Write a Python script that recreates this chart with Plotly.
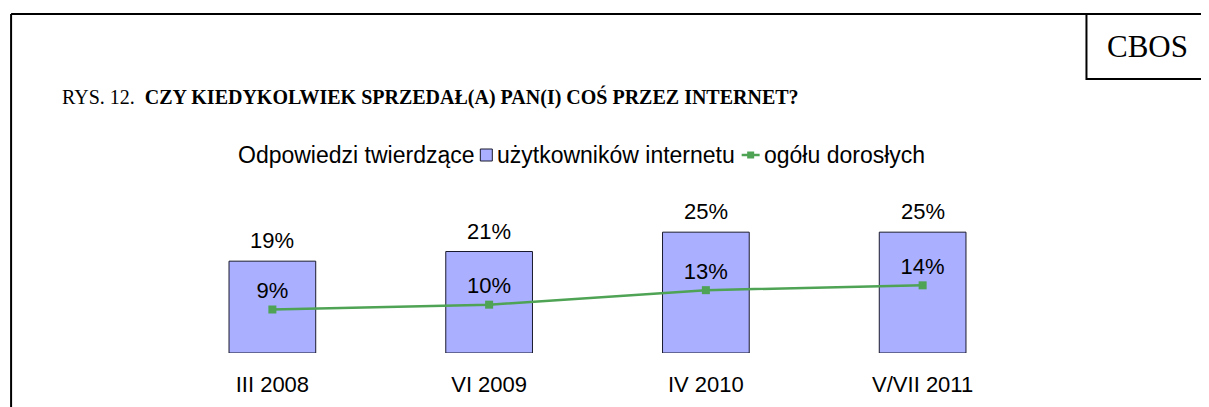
import plotly.graph_objects as go

# --- data ---
categories = ["III 2008", "VI 2009", "IV 2010", "V/VII 2011"]
internet_users = [19, 21, 25, 25]   # użytkowników internetu
all_adults = [9, 10, 13, 14]        # ogółu dorosłych

# --- page geometry ---
# the html page has an 8px body margin, so screen = figure + 8
OFF = 8
W, H = 1209, 407
L, T = 164 - OFF, 208 - OFF
R = W - (1031.5 - OFF)
B = H - (353 - OFF)
PW, PH = W - L - R, H - T - B


def fx(p):
    # screen pixel x -> paper x
    return (p - OFF - L) / PW


def fy(p):
    # screen pixel y -> paper y
    return (H - B - (p - OFF)) / PH


sans = "Liberation Sans, Arial, sans-serif"
serif = "Liberation Serif, Times New Roman, serif"
bar_color = "#AAAFFF"
bar_edge = "#1a1a2e"
line_color = "#4EA354"
fs = 22

fig = go.Figure()

fig.add_trace(go.Bar(
    x=categories, y=internet_users, name="użytkowników internetu",
    marker=dict(color=bar_color, line=dict(color=bar_edge, width=1)),
    hoverinfo="skip",
))

fig.add_trace(go.Scatter(
    x=categories, y=all_adults, name="ogółu dorosłych",
    mode="lines+markers+text",
    line=dict(color=line_color, width=2.5),
    marker=dict(symbol="square", size=8, color=line_color),
    text=[f"{v}%" for v in all_adults], textposition="top center",
    textfont=dict(family=sans, size=fs, color="black"),
    hoverinfo="skip",
))

# value labels above the bars
for c, v in zip(categories, internet_users):
    fig.add_annotation(x=c, y=v, text=f"{v}%", showarrow=False,
                       yanchor="bottom", yshift=6,
                       font=dict(family=sans, size=fs, color="black"))

# --- legend, drawn by hand to keep the tight spacing of the original ---
leg_y = fy(155)
lfont = dict(family=sans, size=23, color="black")
fig.add_annotation(x=fx(236), y=leg_y, xref="paper", yref="paper", xanchor="left",
                   yanchor="middle", text="Odpowiedzi twierdzące", showarrow=False, font=lfont)
fig.add_shape(type="rect", xref="paper", yref="paper",
              x0=fx(480.5), x1=fx(492.5), y0=fy(161), y1=fy(149),
              fillcolor=bar_color, line=dict(color=bar_edge, width=1))
fig.add_annotation(x=fx(495), y=leg_y, xref="paper", yref="paper", xanchor="left",
                   yanchor="middle", text="użytkowników internetu", showarrow=False, font=lfont)
fig.add_shape(type="line", xref="paper", yref="paper",
              x0=fx(742), x1=fx(760), y0=fy(155), y1=fy(155),
              line=dict(color=line_color, width=2.5))
fig.add_shape(type="rect", xref="paper", yref="paper",
              x0=fx(747.5), x1=fx(754.5), y0=fy(158.5), y1=fy(151.5),
              fillcolor=line_color, line=dict(width=0))
fig.add_annotation(x=fx(762), y=leg_y, xref="paper", yref="paper", xanchor="left",
                   yanchor="middle", text="ogółu dorosłych", showarrow=False, font=lfont)

# CBOS box label
fig.add_annotation(x=fx(1148), y=fy(47), xref="paper", yref="paper",
                   xanchor="center", yanchor="middle",
                   text="CBOS", showarrow=False,
                   font=dict(family=serif, size=31, color="black"))

# page frame + CBOS box
frame = dict(color="black", width=2)
fig.add_shape(type="line", xref="paper", yref="paper",
              x0=fx(11), x1=fx(W + 20), y0=fy(14), y1=fy(14), line=frame)
fig.add_shape(type="line", xref="paper", yref="paper",
              x0=fx(11), x1=fx(11), y0=fy(14), y1=fy(H + 20), line=frame)
fig.add_shape(type="rect", xref="paper", yref="paper",
              x0=fx(1087), x1=fx(W + 20), y0=fy(79), y1=fy(14), line=frame)

fig.update_layout(
    width=W, height=H,
    margin=dict(l=L, r=R, t=T, b=B),
    paper_bgcolor="white", plot_bgcolor="white",
    bargap=0.6,
    showlegend=False,
    title=dict(
        text="RYS. 12.\u00a0\u00a0<b>CZY KIEDYKOLWIEK SPRZEDAŁ(A) PAN(I) COŚ PRZEZ INTERNET?</b>",
        x=(62 - OFF) / W, xanchor="left", y=1 - (97 - OFF) / H, yanchor="middle",
        font=dict(family=serif, size=20, color="black"),
    ),
    xaxis=dict(showgrid=False, showline=False, zeroline=False, ticks="",
               tickfont=dict(family=sans, size=fs, color="black"),
               ticklabelstandoff=16, fixedrange=True),
    yaxis=dict(range=[0, 30], visible=False, showgrid=False, zeroline=False),
)

fig.write_html("out.html")
